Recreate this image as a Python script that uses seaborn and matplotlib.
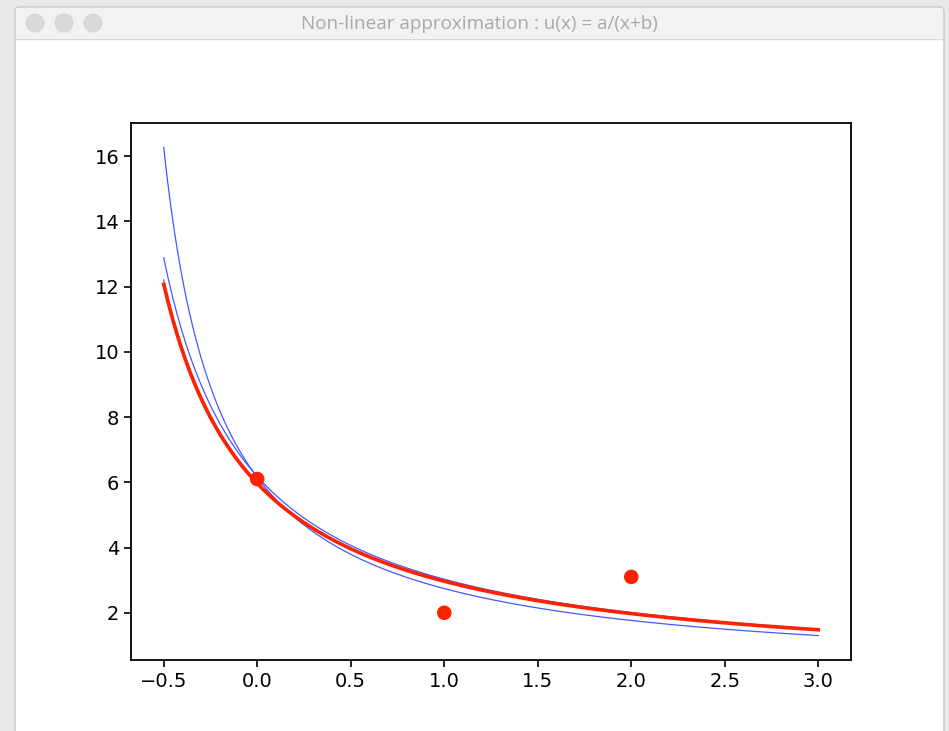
import numpy as np
import pandas as pd
import matplotlib
matplotlib.use("Agg")
import matplotlib.pyplot as plt
import matplotlib.patches as mpatches
import seaborn as sns

# data points
x_pts = [0.0, 1.0, 2.0]
y_pts = [6.1, 2.0, 3.1]

# parameters of u(x) = a/(x+b) : successive iterations (blue) and final fit (red)
a_iter = [4.946, 5.94, 5.92]
b_iter = [0.804, 0.961, 0.985]
a_final = 5.90
b_final = 0.9887

x_min, x_max = -0.5, 3.0
title = "Non-linear approximation : u(x) = a/(x+b)"

W, H = 949, 731
fig = plt.figure(figsize=(W / 100, H / 100), dpi=100)
fig.patch.set_facecolor("#e9e9e9")


def fx(px):
    return px / W


def fy(py):
    return 1 - py / H


# window chrome (drawn below the axes)
fig.add_artist(mpatches.FancyBboxPatch((fx(15), fy(760)), fx(944) - fx(15), fy(7) - fy(760),
                                       boxstyle="round,pad=0,rounding_size=0.006",
                                       transform=fig.transFigure, facecolor="white",
                                       edgecolor="#c8c8c8", lw=1, zorder=-10))
fig.add_artist(mpatches.Rectangle((fx(16), fy(38)), fx(943) - fx(16), fy(8) - fy(38),
                                  transform=fig.transFigure, facecolor="#f2f2f2",
                                  edgecolor="none", zorder=-9))
fig.add_artist(plt.Line2D([fx(16), fx(943)], [fy(38.5), fy(38.5)], transform=fig.transFigure,
                          color="#d6d6d6", lw=1, zorder=-8))
for cx in [35, 64, 93]:
    fig.add_artist(mpatches.Ellipse((fx(cx), fy(23)), 18 / W, 18 / H, transform=fig.transFigure,
                                    facecolor="#d9d9d9", edgecolor="#cfcfcf", lw=0.5, zorder=-8))
fig.text(fx(479), fy(24), title, ha="center", va="center", fontsize=13.6,
         color="#a9a9a9", family="Open Sans")

ax = fig.add_axes([fx(131), fy(660), fx(851) - fx(131), fy(123) - fy(660)])
ax.set_facecolor("white")

xs = np.linspace(x_min, x_max, 300)
for a, b in zip(a_iter, b_iter):
    df = pd.DataFrame({"x": xs, "u": a / (xs + b)})
    sns.lineplot(data=df, x="x", y="u", ax=ax, color="#4657ff", lw=0.9)

df_fit = pd.DataFrame({"x": xs, "u": a_final / (xs + b_final)})
sns.lineplot(data=df_fit, x="x", y="u", ax=ax, color="#ff2200", lw=2.6)

sns.scatterplot(x=x_pts, y=y_pts, ax=ax, color="#ff2200", s=110, edgecolor="none", zorder=5)

ax.set_xlabel("")
ax.set_ylabel("")
ax.margins(0.05)
ax.set_xticks([-0.5, 0.0, 0.5, 1.0, 1.5, 2.0, 2.5, 3.0])
ax.set_yticks([2, 4, 6, 8, 10, 12, 14, 16])
ax.tick_params(labelsize=14, length=5, width=1.2)
for s in ax.spines.values():
    s.set_linewidth(1.3)

fig.savefig("out.png", dpi=100, facecolor=fig.get_facecolor())
